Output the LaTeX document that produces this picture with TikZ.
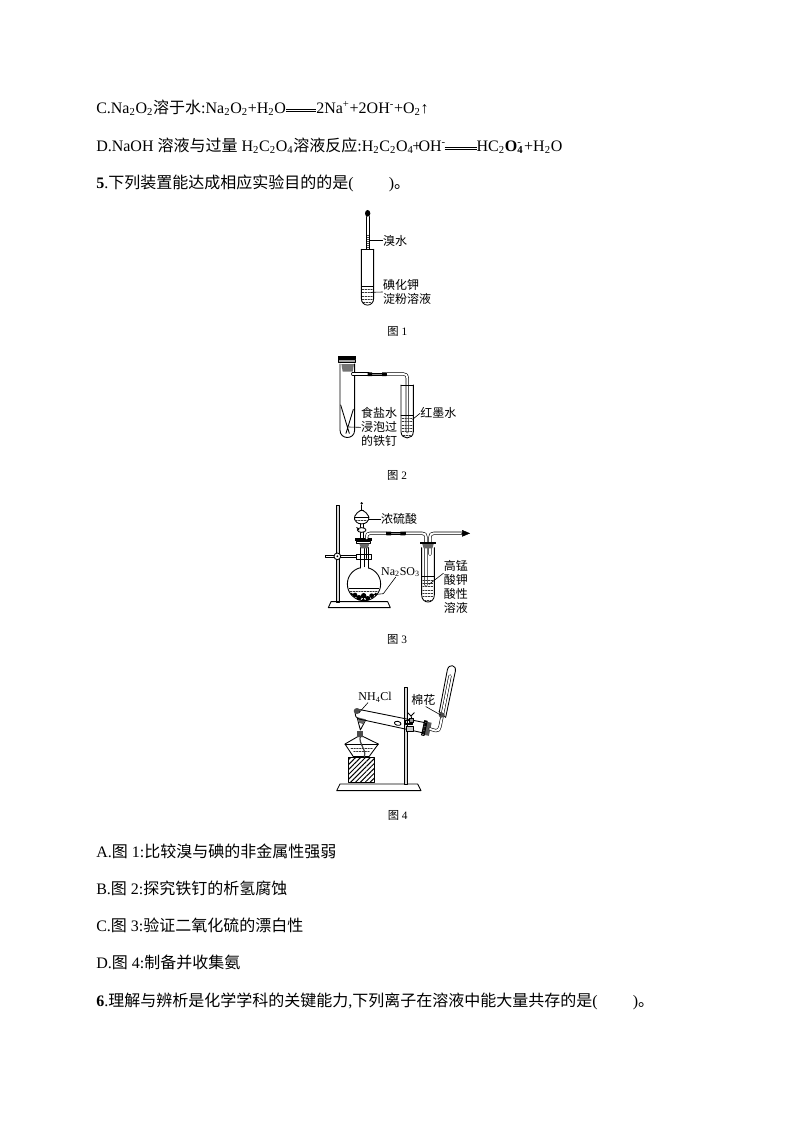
\documentclass[tikz,border=0pt]{standalone}
\usepackage{fontspec}
\setmainfont{Liberation Serif}
\newfontfamily\cjkfam{Noto Sans CJK SC}
\newcommand{\zh}[1]{{\cjkfam #1}}
\newcommand{\longeq}[1]{\raisebox{.28ex}{\vbox{\hrule width #1 height .35pt \kern 1.1pt \hrule height .35pt}}}
\usetikzlibrary{arrows,patterns.meta}
\tikzset{
  para/.style={anchor=west,inner sep=0pt,font=\fontsize{12}{14}\selectfont},
  lab/.style={anchor=west,inner sep=0pt,align=left,font=\fontsize{9}{10.5}\selectfont},
  capt/.style={inner sep=0pt,font=\fontsize{8.5}{10}\selectfont},
  fig/.style={x=0.25pt,y=-0.25pt,line width=0.65pt},
  pipe/.style={draw=black,line width=0.45pt,double=white,double distance=1.5pt},
  liq/.style={line width=0.45pt,dash pattern=on 1.2pt off 0.9pt,black!80},
  lead/.style={line width=0.45pt},
  rubber/.style={draw=black,fill=black!45,line width=0.4pt}
}
\begin{document}
\begin{tikzpicture}[line cap=round,line join=round,>=triangle 45,x=0.75pt,y=-0.75pt]
\useasboundingbox (0,0) rectangle (794,1123);
% text lines
\node[para] (lineC) at (96,108) {C.Na\textsubscript{2}O\textsubscript{2}\zh{溶于水}:Na\textsubscript{2}O\textsubscript{2}+H\textsubscript{2}O\longeq{1.9em}2Na\textsuperscript{+}+2OH\textsuperscript{-}+O\textsubscript{2}↑};
\node[para] (lineD) at (96,146) {D.NaOH \zh{溶液与过量} H\textsubscript{2}C\textsubscript{2}O\textsubscript{4}\zh{溶液反应}:H\textsubscript{2}C\textsubscript{2}O\textsubscript{4}\hspace{-1pt}+\hspace{-2pt}OH\textsuperscript{-}\hspace{-1pt}\longeq{2em}HC\textsubscript{2}\textbf{O}\rlap{\textsubscript{\textbf{4}}}\textsuperscript{-}\,+H\textsubscript{2}O};
\node[para] (line5) at (96,183) {\textbf{5}.\zh{下列装置能达成相应实验目的的是}(\hspace{2.2em})\zh{。}};
\node[para] (optA) at (96,851) {A.\zh{图} 1:\zh{比较溴与碘的非金属性强弱}};
\node[para] (optB) at (96,888) {B.\zh{图} 2:\zh{探究铁钉的析氢腐蚀}};
\node[para] (optC) at (96,925) {C.\zh{图} 3:\zh{验证二氧化硫的漂白性}};
\node[para] (optD) at (96,962) {D.\zh{图} 4:\zh{制备并收集氨}};
\node[para] (line6) at (96,1001) {\textbf{6}.\zh{理解与辨析是化学学科的关键能力},\zh{下列离子在溶液中能大量共存的是}(\hspace{2.2em})\zh{。}};
% fig 1
\begin{scope}[shift={(330,200)},fig]
\fill (113,40) ellipse (8 and 10);
\draw (109,50)-- (109,148) (118,50)-- (118,148);
\draw[line width=1.4pt,dash pattern=on 0.8pt off 0.7pt,line cap=butt,black!70] (113.5,105)-- (113.5,148);
\draw (94,148)-- (131,148);
\draw (94,148)-- (94,295) .. controls (94,322) and (131,322) .. (131,295)-- (131,148);
\draw[lead] (94,258)-- (131,258);
\draw[liq] (97,268)-- (128,268) (97,278)-- (128,278) (97,288)-- (128,288) (97,298)-- (128,298) (100,308)-- (125,308);
\node[lab] (brom) at (158,122) {\zh{溴水}};
\coordinate (bromEnd) at (119,122);
\draw[lead] (brom.west)-- (bromEnd);
\node[lab] (ki) at (158,276) {\zh{碘化钾}\\\zh{淀粉溶液}};
\coordinate (kiEnd) at (122,277);
\draw[lead] (ki.west)-- (kiEnd);
\node[capt] (cap1) at (202,393) {\zh{图} 1};
\end{scope}
% fig 2
\begin{scope}[shift={(320,350)},fig]
\fill (54,18) rectangle (108,28);
\draw[fill=black!35] (56,28) rectangle (106,36);
\fill[black!55] (64,42) -- (102,42) -- (98,65) -- (68,65) -- cycle;
\draw (60,42)-- (60,240) .. controls (60,270) and (104,270) .. (104,240)-- (104,42);
\draw[pipe] (98,72)-- (145,72);
\draw[pipe] (200,72)-- (250,72) .. controls (258,72) and (262,76) .. (262,84)-- (262,245);
\draw[rubber] (145,69) rectangle (200,76);
\fill (143,67) rectangle (156,78) (186,67) rectangle (199,78);
\draw (243,105)-- (280,105);
\draw (243,105)-- (243,245) .. controls (243,270) and (280,270) .. (280,245)-- (280,105);
\draw[lead] (243,195)-- (280,195);
\draw[liq] (246,205)-- (277,205) (246,215)-- (277,215) (246,225)-- (277,225) (246,235)-- (277,235) (246,245)-- (277,245) (250,255)-- (273,255);
\draw (62,165)-- (88,250) (100,178)-- (78,250);
\node[lab] (nail) at (122,232) {\zh{食盐水}\\\zh{浸泡过}\\\zh{的铁钉}};
\coordinate (nailEnd) at (86,231);
\draw[lead] (nail.west)-- (nailEnd);
\node[lab] (ink) at (300,190) {\zh{红墨水}};
\coordinate (inkEnd) at (278,208);
\draw[lead] (ink.west)-- (inkEnd);
\node[capt] (cap2) at (231,375) {\zh{图} 2};
\end{scope}
% fig 3
\begin{scope}[shift={(315,495)},fig]
\draw[fill=black!15] (65,30) rectangle (73,322);
\draw (40,338)-- (48,320)-- (218,320)-- (226,338)-- cycle;
\draw (30,180) rectangle (58,188);
\draw (76,180) rectangle (125,187);
\draw[fill=white] (67,184) circle (10);
\fill (67,184) circle (3);
\draw (123,177) rectangle (170,193);
\draw (147,267) circle (50);
\fill[white] (138,210) rectangle (159,228);
\draw (137,158)-- (137,219) (160,158)-- (160,219);
\draw (147,158)-- (147,215) (154,158)-- (154,190);
\draw[lead] (103,280)-- (191,280);
\draw[liq] (106,290)-- (188,290);
\fill (120,300) circle (7) (132,308) circle (8) (146,302) circle (8) (158,310) circle (7) (170,302) circle (7) (182,298) circle (5) (145,314) circle (4) (110,297) circle (4);
\fill (121,130) rectangle (170,138);
\draw (125,138) rectangle (165,146);
\fill[black!60] (133,146) -- (163,146) -- (158,160) -- (138,160) -- cycle;
\fill (140,25) circle (4);
\draw (140,30)-- (140,45);
\draw (135,45)-- (145,45);
\draw (140,45) .. controls (118,55) and (112,72) .. (125,82) .. controls (132,88) and (148,88) .. (155,82) .. controls (168,72) and (162,55) .. (140,45);
\draw[lead] (118,68)-- (162,68);
\draw[liq] (122,75)-- (158,75);
\draw (136,88)-- (136,130) (144,88)-- (144,130);
\draw[fill=white] (140,105) ellipse (13 and 7);
\draw (125,97)-- (132,105);
\draw[pipe] (155,130)-- (155,125) .. controls (155,118) and (158,115) .. (165,115)-- (215,115);
\draw[pipe] (270,115)-- (322,115) .. controls (330,115) and (333,119) .. (333,127)-- (333,270);
\draw[rubber] (215,112) rectangle (270,119);
\fill (214,110) rectangle (228,121) (256,110) rectangle (271,121);
\draw[pipe] (345,178)-- (345,127) .. controls (345,119) and (348,115) .. (356,115)-- (440,115);
\coordinate (gasStart) at (440,115);
\coordinate (gasEnd) at (465,115);
\draw[->,line width=0.3pt] (gasStart)-- (gasEnd);
\fill (316,140) rectangle (362,147);
\fill[black!60] (322,147) -- (356,147) -- (352,160) -- (326,160) -- cycle;
\draw (320,158)-- (320,300) .. controls (320,328) and (358,328) .. (358,300)-- (358,158);
\draw[lead] (320,245)-- (358,245);
\draw[liq] (323,255)-- (355,255) (323,265)-- (355,265) (323,275)-- (355,275) (323,285)-- (355,285) (323,295)-- (355,295) (323,305)-- (355,305) (328,315)-- (350,315);
\node[lab] (acid) at (197,72) {\zh{浓硫酸}};
\coordinate (acidEnd) at (162,72);
\draw[lead] (acid.west)-- (acidEnd);
\node[lab,font=\fontsize{9}{11}\selectfont] (salt) at (197,231) {Na\textsubscript{2}SO\textsubscript{3}};
\coordinate (saltMid) at (205,296);
\coordinate (saltEnd) at (165,300);
\draw[lead] (salt.south west)++(45,0)-- (saltMid)-- (saltEnd);
\node[lab] (kmn) at (385,275) {\zh{高锰}\\\zh{酸钾}\\\zh{酸性}\\\zh{溶液}};
\coordinate (kmnEnd) at (342,268);
\draw[lead] (kmn.west)++(0,-40)-- (kmnEnd);
\node[capt] (cap3) at (246,432) {\zh{图} 3};
\end{scope}
% fig 4
\begin{scope}[shift={(325,660)},fig]
\draw (35,392)-- (45,372)-- (278,372)-- (288,392)-- cycle;
\draw[fill=black!15] (238,82) rectangle (246,372);
\draw[pattern={Lines[angle=45,distance=2.6pt,line width=0.75pt]}] (70,292) rectangle (148,368);
\draw (85,290)-- (60,252)-- (98,230)-- (115,230)-- (160,252)-- (132,290)-- cycle;
\draw[lead] (60,252)-- (160,252);
\draw[liq] (78,264)-- (142,264) (86,274)-- (134,274);
\draw[line width=0.9pt,black!75] (106,228) .. controls (100,255) and (125,265) .. (118,290);
\fill[black!70] (97,212) rectangle (115,230);
\draw (97,175)-- (106,210)-- (122,180);
\fill[black!60] (98,172) -- (122,178) -- (114,192) -- (102,188) -- cycle;
% tilted tube
\draw (300,188)-- (106,149) .. controls (88,146) and (84,172) .. (102,177)-- (296,219);
\fill[black!70] (96,153) ellipse (10 and 9);
\draw (240,180) rectangle (262,192);
\draw[fill=white,rotate around={-12:(218,190)}] (218,190) ellipse (10 and 6);
\draw[fill=black!20] (245,200) rectangle (265,214);
\draw (238,190)-- (262,190);
\draw (262,180)-- (258,168) (248,158)-- (258,168)-- (268,158);
\draw[fill=black!40] (252,174) rectangle (266,186);
\begin{scope}[shift={(302,205)},rotate=-12]
\fill[black!65] (-6,-20) rectangle (14,20);
\draw[pattern={Lines[angle=0,distance=1pt,line width=0.3pt]}] (-8,-22) rectangle (0,22);
\end{scope}
\draw[pipe] (315,207)-- (332,212) .. controls (340,214) and (343,208) .. (345,200)-- (351,170);
\draw (343,155)-- (367,30) .. controls (371,10) and (395,14) .. (391,34)-- (362,172);
\draw (342,155)-- (362,172);
\draw[pipe] (352,165)-- (375,48);
\fill[black!70] (350,165) ellipse (9 and 8);
\node[lab,font=\fontsize{9}{11}\selectfont] (nh) at (99,112) {NH\textsubscript{4}Cl};
\coordinate (nhEnd) at (103,157);
\draw[lead] (nh.south west)++(30,0)-- (nhEnd);
\node[lab] (cotton) at (258,120) {\zh{棉花}};
\coordinate (cottonEnd) at (347,165);
\draw[lead] (cotton.south east)++(-30,2)-- (cottonEnd);
\node[capt] (cap4) at (218,465) {\zh{图} 4};
\end{scope}
\end{tikzpicture}
\end{document}
